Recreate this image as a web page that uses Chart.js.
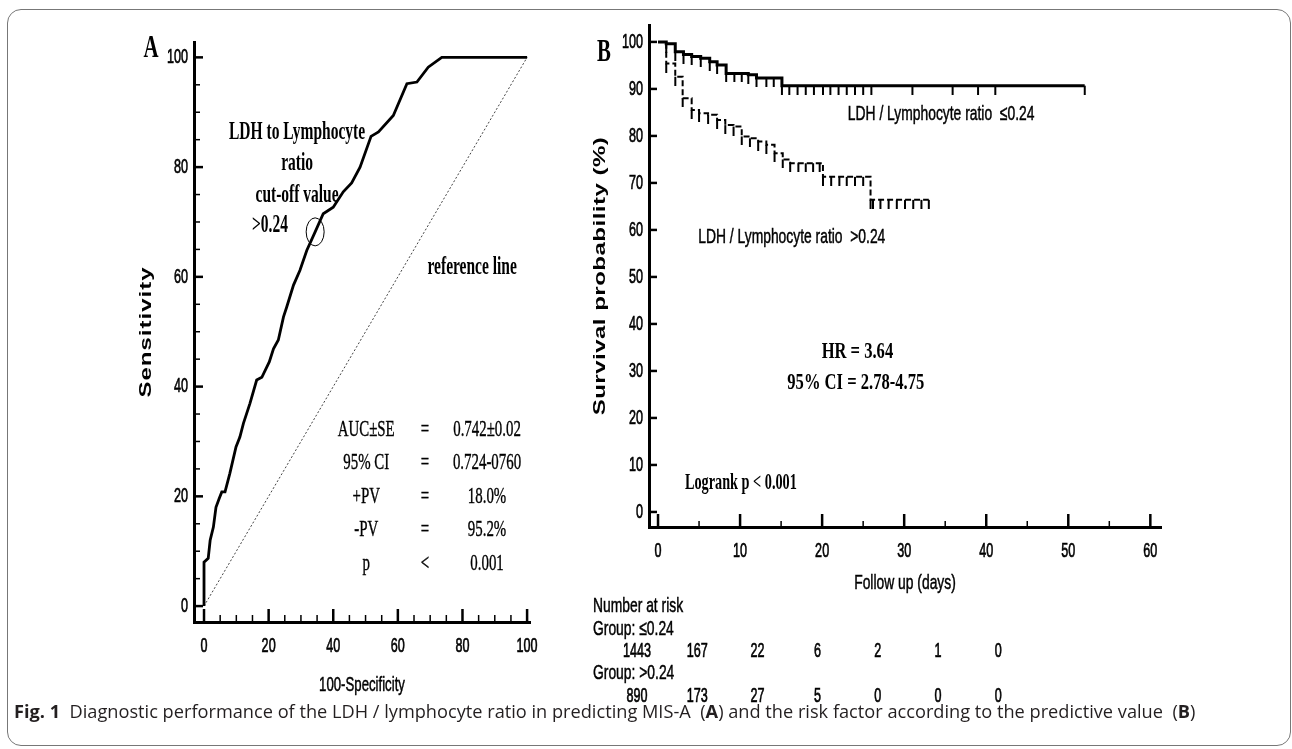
<!DOCTYPE html>
<html>
<head>
<meta charset="utf-8">
<script src="https://cdn.jsdelivr.net/npm/chart.js@4.4.1/dist/chart.umd.min.js"></script>
<style>
  body { margin: 0; background: #fff; width: 1292px; height: 749px; position: relative; overflow: hidden; }
  #frame { position: absolute; left: 7px; top: 9px; width: 1284px; height: 737px; border: 1px solid #777; border-radius: 14px; box-sizing: border-box; }
  #rocChart { position: absolute; left: 0; top: 0; }
  #kmChart { position: absolute; left: 560px; top: 0; }
  #caption { position: absolute; left: 14px; top: 699px; font: 18.2px "Open Sans", "Noto Sans", sans-serif; color: #231f20; white-space: pre; }
</style>
</head>
<body>
<div id="frame"></div>
<canvas id="rocChart" width="560" height="705"></canvas>
<canvas id="kmChart" width="720" height="705"></canvas>
<div id="caption"><b>Fig. 1</b>  Diagnostic performance of the LDH / lymphocyte ratio in predicting MIS-A  (<b>A</b>) and the risk factor according to the predictive value  (<b>B</b>)</div>
<script>
// ---- Panel A: ROC curve ----
const rocFpr  = [0, 0, 1.3, 1.9, 2.9, 3.7, 4.7, 5.5, 6.5, 8, 9.9, 11.1, 12.2, 14.2, 16.3, 17.9, 20.2, 21.5, 23, 24.6,
                 25.6, 27.7, 29.7, 31.8, 34.4, 36.9, 40, 43.1, 45.7, 48.3, 51.7, 54, 58.6, 62.8, 65.9, 69.4, 73.6, 100];
const rocSens = [0, 8, 8.7, 12, 14.4, 18, 19.6, 20.8, 20.8, 24.2, 29, 30.8, 33.3, 36.9, 41.2, 41.7, 44.5, 46.9, 48.5, 52.7,
                 54.5, 58.5, 61.2, 64.8, 68.2, 71.5, 72.7, 75.5, 77.1, 80, 85.6, 86.4, 89.4, 95.2, 95.5, 98.2, 100, 100];
const refLine = [0, 100];
const cutoffPoint = [34.4, 68.2];
const rocTicks = [0, 20, 40, 60, 80, 100];
const rocMinorTicks = [5, 10, 15, 25, 30, 35, 45, 50, 55, 65, 70, 75, 85, 90, 95];
const statNames  = ['AUC±SE', '95% CI', '+PV', '-PV', 'p'];
const statSigns  = ['=', '=', '=', '=', '<'];
const statValues = ['0.742±0.02', '0.724-0760', '18.0%', '95.2%', '0.001'];

// ---- Panel B: Kaplan-Meier ----
const lowDays = [0, 1.0, 2.1, 3.1, 4.1, 5.2, 6.3, 7.2, 8.3, 9.3, 10.2, 11.0, 12.0, 13.2, 14.1, 15.1, 16.0, 17.0, 18.0, 19.0,
                 20.1, 21.0, 22.0, 23.0, 24.0, 25.0, 26.0, 31.0, 35.9, 39.0, 41.1, 52.0];
const lowSurv = [100, 99.6, 97.9, 97.3, 96.9, 96.5, 95.8, 95.1, 93.3, 93.3, 93.3, 93.0, 92.3, 92.3, 92.3, 90.7, 90.7, 90.7, 90.7, 90.7,
                 90.7, 90.7, 90.7, 90.7, 90.7, 90.7, 90.7, 90.7, 90.7, 90.7, 90.7, 90.7];
const highDays = [0, 1.0, 2.1, 3.0, 4.1, 5.0, 6.1, 7.2, 8.2, 9.2, 10.2, 11.2, 12.2, 13.2, 14.2, 15.2, 16.1, 17.1, 18.0, 18.9,
                  19.7, 20.1, 21.1, 22.1, 23.0, 24.0, 25.0, 25.9, 26.2, 27.1, 28.1, 29.1, 30.1, 31.1, 32.1, 33.0];
const highSurv = [100, 95.4, 92.6, 88.0, 85.5, 84.8, 84.5, 83.4, 82.3, 82.0, 79.9, 79.5, 78.8, 78.1, 76.3, 75.0, 74.2, 74.2, 74.2, 74.2,
                  74.2, 71.3, 71.3, 71.3, 71.3, 71.3, 71.3, 66.4, 66.4, 66.4, 66.4, 66.4, 66.4, 66.4, 66.4, 66.4];
const kmYTicks = [0, 10, 20, 30, 40, 50, 60, 70, 80, 90, 100];
const kmXTicks = [0, 10, 20, 30, 40, 50, 60];
const kmXMinorTicks = [5, 15, 25, 35, 45, 55];
const riskGroups = ['Group: ≤0.24', 'Group: >0.24'];
const riskLow  = [1443, 167, 22, 6, 2, 1, 0];
const riskHigh = [890, 173, 27, 5, 0, 0, 0];

const serif = '"Liberation Serif", "Times New Roman", serif';
const sans = '"Liberation Sans", Arial, sans-serif';

// text squeezed horizontally like the original scan
function squash(ctx, text, x, y, o) {
    ctx.save();
    ctx.translate(x, y);
    if (o.rot) ctx.rotate(o.rot);
    ctx.scale(o.sx || 1, o.sy || 1);
    ctx.font = o.font;
    ctx.fillStyle = '#000';
    ctx.textAlign = o.align || 'center';
    ctx.textBaseline = 'middle';
    if (o.spacing) ctx.letterSpacing = o.spacing;
    ctx.fillText(text, 0, 0);
    if (o.heavy) {
        ctx.strokeStyle = '#000';
        ctx.lineWidth = o.heavy;
        ctx.strokeText(text, 0, 0);
    }
    ctx.restore();
}

function tick(ctx, x, y, dx, dy, w) {
    ctx.beginPath();
    ctx.lineWidth = w;
    ctx.moveTo(x, y);
    ctx.lineTo(x + dx, y + dy);
    ctx.stroke();
}

// censor mark hanging below the curve
function censorMark(len, w) {
    const c = document.createElement('canvas');
    c.width = 4; c.height = len * 2;
    const g = c.getContext('2d');
    g.fillStyle = '#000';
    g.fillRect((4 - w) / 2, len, w, len);
    return c;
}

const tickFont = { font: '21px ' + sans, sx: 0.6, heavy: 0.7 };
const labelFont = { font: '21px ' + sans, sx: 0.66, heavy: 0.5 };

const rocDecor = {
    id: 'rocDecor',
    afterDraw(chart) {
        const { ctx, chartArea: a, scales: { x, y } } = chart;
        ctx.save();
        ctx.strokeStyle = '#000';
        rocTicks.forEach(v => {
            tick(ctx, a.left, y.getPixelForValue(v), 9, 0, 2.5);
            tick(ctx, x.getPixelForValue(v), a.bottom, 0, -13, 2.5);
            squash(ctx, String(v), a.left - 6, y.getPixelForValue(v), Object.assign({ align: 'right' }, tickFont));
            squash(ctx, String(v), x.getPixelForValue(v), a.bottom + 24, tickFont);
        });
        rocMinorTicks.forEach(v => {
            tick(ctx, a.left, y.getPixelForValue(v), 6, 0, 1.5);
            tick(ctx, x.getPixelForValue(v), a.bottom, 0, -7, 1.5);
        });

        // cut-off marker
        ctx.lineWidth = 1;
        ctx.beginPath();
        ctx.ellipse(x.getPixelForValue(cutoffPoint[0]), y.getPixelForValue(cutoffPoint[1]), 9, 14, 0, 0, Math.PI * 2);
        ctx.stroke();

        const bold = { font: 'bold 25px ' + serif, sx: 0.62 };
        squash(ctx, 'LDH to Lymphocyte', x.getPixelForValue(28.8), y.getPixelForValue(86.3), bold);
        squash(ctx, 'ratio', x.getPixelForValue(28.8), y.getPixelForValue(80.7), bold);
        squash(ctx, 'cut-off value', x.getPixelForValue(28.8), y.getPixelForValue(74.9), bold);
        squash(ctx, '>0.24', x.getPixelForValue(20.4), y.getPixelForValue(69.4), bold);
        squash(ctx, 'reference line', x.getPixelForValue(83), y.getPixelForValue(61.7), bold);

        const plain = { font: '24px ' + serif, sx: 0.62, heavy: 0.4 };
        statNames.forEach((n, i) => {
            const py = y.getPixelForValue(32.2) + i * 33.5;
            squash(ctx, n, x.getPixelForValue(50.2), py, plain);
            squash(ctx, statSigns[i], x.getPixelForValue(68.4), py, plain);
            squash(ctx, statValues[i], x.getPixelForValue(87.6), py, plain);
        });

        squash(ctx, 'A', 151, 49, { font: 'bold 32px ' + serif, sx: 0.65 });
        squash(ctx, 'Sensitivity', 146, (a.top + a.bottom) / 2, { font: 'bold 24px ' + sans, rot: -Math.PI / 2, sy: 0.7, spacing: '1px' });
        squash(ctx, '100-Specificity', (a.left + a.right) / 2, 685, { font: '20px ' + sans, sx: 0.66, heavy: 0.5 });
        ctx.restore();
    }
};

new Chart(document.getElementById('rocChart'), {
    type: 'line',
    data: {
        datasets: [
            { data: rocFpr.map((v, i) => ({ x: v, y: rocSens[i] })), borderColor: '#000', borderWidth: 2.8, pointRadius: 0, tension: 0 },
            { data: refLine.map(v => ({ x: v, y: v })), borderColor: '#444', borderWidth: 1, borderDash: [2, 2], pointRadius: 0 }
        ]
    },
    options: {
        responsive: false,
        animation: false,
        events: [],
        layout: { padding: { top: 42, right: 30, left: 0, bottom: 0 }, autoPadding: false },
        plugins: { legend: { display: false }, tooltip: { enabled: false } },
        scales: {
            x: { type: 'linear', min: -3.1, max: 100.9, grid: { display: false }, border: { color: '#000', width: 3 },
                 ticks: { display: false }, afterFit: s => { s.height = 83; } },
            y: { type: 'linear', min: -2.9, max: 102.8, grid: { display: false }, border: { color: '#000', width: 3 },
                 ticks: { display: false }, afterFit: s => { s.width = 194; } }
        }
    },
    plugins: [rocDecor]
});

const kmDecor = {
    id: 'kmDecor',
    afterDraw(chart) {
        const { ctx, chartArea: a, scales: { x, y } } = chart;
        ctx.save();
        ctx.strokeStyle = '#000';
        kmYTicks.forEach(v => {
            tick(ctx, a.left, y.getPixelForValue(v), 8, 0, 2.5);
            squash(ctx, String(v), a.left - 6, y.getPixelForValue(v), Object.assign({ align: 'right' }, tickFont));
        });
        kmXTicks.forEach(v => {
            tick(ctx, x.getPixelForValue(v), a.bottom, 0, -13, 2.5);
            squash(ctx, String(v), x.getPixelForValue(v), a.bottom + 24, tickFont);
        });
        kmXMinorTicks.forEach(v => tick(ctx, x.getPixelForValue(v), a.bottom, 0, -6, 1.5));

        squash(ctx, 'LDH / Lymphocyte ratio  ≤0.24', x.getPixelForValue(34.5), y.getPixelForValue(84.7), labelFont);
        squash(ctx, 'LDH / Lymphocyte ratio  >0.24', x.getPixelForValue(16.3), y.getPixelForValue(58.5), labelFont);
        squash(ctx, 'HR = 3.64', x.getPixelForValue(24.3), y.getPixelForValue(34.0), { font: 'bold 23px ' + serif, sx: 0.72 });
        squash(ctx, '95% CI = 2.78-4.75', x.getPixelForValue(24.1), y.getPixelForValue(27.4), { font: 'bold 23px ' + serif, sx: 0.72 });
        squash(ctx, 'Logrank p < 0.001', x.getPixelForValue(10.1), y.getPixelForValue(6.2), { font: 'bold 23px ' + serif, sx: 0.62 });

        squash(ctx, 'B', 44, 53, { font: 'bold 32px ' + serif, sx: 0.65 });
        squash(ctx, 'Survival probability (%)', 40, (a.top + a.bottom) / 2, { font: 'bold 24px ' + sans, rot: -Math.PI / 2, sy: 0.7, spacing: '0.5px' });
        squash(ctx, 'Follow up (days)', 345, 583, labelFont);

        // number at risk table
        const left = 33, col0 = 77, colStep = 60.2;
        squash(ctx, 'Number at risk', left, 606, Object.assign({ align: 'left' }, labelFont));
        [riskLow, riskHigh].forEach((row, r) => {
            squash(ctx, riskGroups[r], left, 629 + r * 44.5, Object.assign({ align: 'left' }, labelFont));
            row.forEach((n, i) => squash(ctx, String(n), col0 + i * colStep, 651 + r * 45, tickFont));
        });
        ctx.restore();
    }
};

const tickMark = censorMark(9, 2);
new Chart(document.getElementById('kmChart'), {
    type: 'line',
    data: {
        datasets: [
            { data: lowDays.map((d, i) => ({ x: d, y: lowSurv[i] })), stepped: 'before', borderColor: '#000', borderWidth: 3,
              pointStyle: tickMark, pointRadius: c => c.dataIndex > 0 ? 3 : 0 },
            { data: highDays.map((d, i) => ({ x: d, y: highSurv[i] })), stepped: 'before', borderColor: '#000', borderWidth: 2,
              borderDash: [6, 3], pointStyle: tickMark, pointRadius: c => c.dataIndex > 0 ? 3 : 0 }
        ]
    },
    options: {
        responsive: false,
        animation: false,
        events: [],
        layout: { padding: { top: 25, right: 119, left: 0, bottom: 0 }, autoPadding: false },
        plugins: { legend: { display: false }, tooltip: { enabled: false } },
        scales: {
            x: { type: 'linear', min: -1.1, max: 61.3, grid: { display: false }, border: { color: '#000', width: 3 },
                 ticks: { display: false }, afterFit: s => { s.height = 178; } },
            y: { type: 'linear', min: -3.2, max: 103.6, grid: { display: false }, border: { color: '#000', width: 3 },
                 ticks: { display: false }, afterFit: s => { s.width = 89; } }
        }
    },
    plugins: [kmDecor]
});
</script>
</body>
</html>
